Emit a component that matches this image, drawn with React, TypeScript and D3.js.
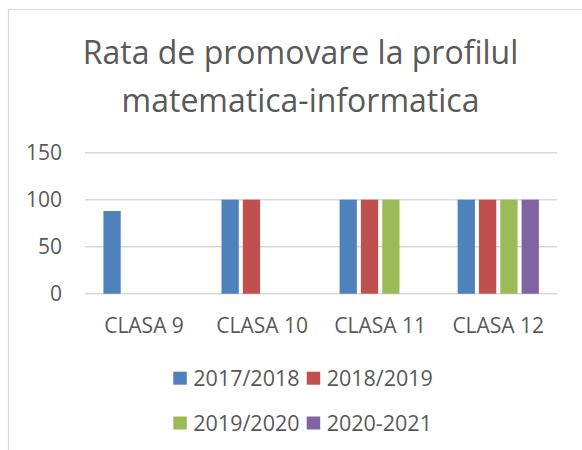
import React from "react";
import * as d3 from "d3";

const categories = ["CLASA 9", "CLASA 10", "CLASA 11", "CLASA 12"];
const seriesNames = ["2017/2018", "2018/2019", "2019/2020", "2020-2021"];
const s2017: (number | null)[] = [88, 100, 100, 100];
const s2018: (number | null)[] = [null, 100, 100, 100];
const s2019: (number | null)[] = [null, null, 100, 100];
const s2020: (number | null)[] = [null, null, null, 100];
const yTicks = [0, 50, 100, 150];
const titleLines = ["Rata de promovare la profilul", "matematica-informatica"];

const colors = ["#4F81BD", "#C0504D", "#9BBB59", "#8064A2"];
const seriesValues = [s2017, s2018, s2019, s2020];

const W = 582;
const H = 450;
const FONT = "'Open Sans', sans-serif";
const TEXT = "#595959";

export default function App() {
  const x0 = d3.scaleBand<string>().domain(categories).range([85, 557.3]).paddingInner(0.312).paddingOuter(0.156);
  const x1 = d3.scaleBand<string>().domain(seriesNames).range([0, x0.bandwidth()]).paddingInner(0.189).paddingOuter(0);
  const y = d3.scaleLinear().domain([0, 150]).range([293.7, 152.7]);

  const legendX0 = 173.3;
  const legendItemW = 133.4;
  const legendRowY = [378.2, 423];

  return (
    <svg width={W} height={H} style={{ position: "absolute", left: 0, top: 0, background: "#fff" }}>
      <rect x={0} y={0} width={W} height={H} fill="#fff" />
      <line x1={8.5} y1={9} x2={8.5} y2={H} stroke="#d9d9d9" strokeWidth={1.2} />
      <line x1={8} y1={9.5} x2={W} y2={9.5} stroke="#d9d9d9" strokeWidth={1.2} />

      {titleLines.map((t, i) => (
        <text key={t} x={300.5} y={64.3 + i * 47.4} textAnchor="middle" fontFamily={FONT} fontSize={32} fill={TEXT}>
          {t}
        </text>
      ))}

      {yTicks.map((t) => (
        <g key={t}>
          <line x1={85} x2={557.3} y1={y(t)} y2={y(t)} stroke="#d9d9d9" strokeWidth={1.5} />
          <text x={62} y={y(t) + 7.5} textAnchor="end" fontFamily={FONT} fontSize={21} fill={TEXT}>
            {t}
          </text>
        </g>
      ))}

      {categories.map((c, ci) => (
        <g key={c} transform={`translate(${x0(c)},0)`}>
          {seriesNames.map((s, si) => {
            const v = seriesValues[si][ci];
            if (v == null) return null;
            return (
              <rect key={s} x={x1(s)} y={y(v)} width={x1.bandwidth()} height={y(0) - y(v)} fill={colors[si]} />
            );
          })}
        </g>
      ))}

      {categories.map((c) => (
        <text key={c} x={(x0(c) as number) + x0.bandwidth() / 2} y={332.7} textAnchor="middle" fontFamily={FONT} fontSize={21} fill={TEXT}>
          {c}
        </text>
      ))}

      {seriesNames.map((s, i) => {
        const row = Math.floor(i / 2);
        const col = i % 2;
        const lx = legendX0 + col * legendItemW;
        const ly = legendRowY[row];
        return (
          <g key={s}>
            <rect x={lx} y={ly - 6.5} width={13.5} height={13} fill={colors[i]} />
            <text x={lx + 20} y={ly + 7.8} fontFamily={FONT} fontSize={21.5} fill={TEXT}>
              {s}
            </text>
          </g>
        );
      })}
    </svg>
  );
}
